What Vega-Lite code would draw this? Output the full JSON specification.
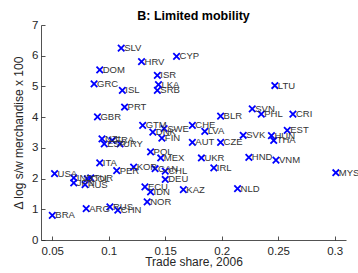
{
  "$schema": "https://vega.github.io/schema/vega-lite/v6.json",
  "width": 305,
  "height": 215,
  "autosize": {"type": "none"},
  "padding": {"left": 41, "top": 25, "right": 12, "bottom": 33},
  "background": "white",
  "title": {"text": "B: Limited mobility", "fontSize": 12.5, "fontWeight": "bold", "font": "Liberation Sans", "color": "#000", "anchor": "middle", "offset": -3},
  "config": {
    "view": {"stroke": null},
    "axis": {"grid": false, "labelFont": "Liberation Sans", "titleFont": "Liberation Sans", "labelFontSize": 11.5, "titleFontSize": 12, "titleFontWeight": "normal", "labelColor": "#262626", "titleColor": "#262626", "domainColor": "#262626", "tickColor": "#262626", "tickSize": -4, "domainWidth": 0.8, "tickWidth": 0.8, "labelOverlap": false}
  },
  "data": {"values": [
    {"c": "SLV", "x": 0.111, "y": 6.25},
    {"c": "HRV", "x": 0.129, "y": 5.81},
    {"c": "CYP", "x": 0.160, "y": 5.98},
    {"c": "DOM", "x": 0.092, "y": 5.54},
    {"c": "GRC", "x": 0.087, "y": 5.08},
    {"c": "ISL", "x": 0.112, "y": 4.87},
    {"c": "ISR", "x": 0.143, "y": 5.36},
    {"c": "LKA", "x": 0.144, "y": 5.06},
    {"c": "SRB", "x": 0.143, "y": 4.87},
    {"c": "PRT", "x": 0.114, "y": 4.33},
    {"c": "LTU", "x": 0.247, "y": 5.03},
    {"c": "GBR", "x": 0.090, "y": 4.01},
    {"c": "BLR", "x": 0.199, "y": 4.03},
    {"c": "SVN", "x": 0.227, "y": 4.27},
    {"c": "PHL", "x": 0.235, "y": 4.10},
    {"c": "CRI", "x": 0.263, "y": 4.10},
    {"c": "GTM", "x": 0.130, "y": 3.73},
    {"c": "DNK", "x": 0.139, "y": 3.51},
    {"c": "SWE", "x": 0.149, "y": 3.63},
    {"c": "FIN", "x": 0.147, "y": 3.32},
    {"c": "CHE", "x": 0.174, "y": 3.73},
    {"c": "LVA", "x": 0.185, "y": 3.54},
    {"c": "SVK", "x": 0.219, "y": 3.41},
    {"c": "AUT", "x": 0.174, "y": 3.18},
    {"c": "CZE", "x": 0.199, "y": 3.18},
    {"c": "POL", "x": 0.137, "y": 2.87},
    {"c": "MEX", "x": 0.146, "y": 2.67},
    {"c": "UKR", "x": 0.182, "y": 2.67},
    {"c": "CAN", "x": 0.141, "y": 2.32},
    {"c": "CHL", "x": 0.150, "y": 2.24},
    {"c": "IRL", "x": 0.193, "y": 2.35},
    {"c": "DEU", "x": 0.150, "y": 1.97},
    {"c": "ECU", "x": 0.132, "y": 1.73},
    {"c": "IDN", "x": 0.137, "y": 1.57},
    {"c": "KAZ", "x": 0.166, "y": 1.64},
    {"c": "NLD", "x": 0.214, "y": 1.67},
    {"c": "NOR", "x": 0.134, "y": 1.24},
    {"c": "HUN", "x": 0.244, "y": 3.40},
    {"c": "THA", "x": 0.246, "y": 3.24},
    {"c": "EST", "x": 0.258, "y": 3.57},
    {"c": "HND", "x": 0.224, "y": 2.69},
    {"c": "VNM", "x": 0.248, "y": 2.60},
    {"c": "MYS", "x": 0.301, "y": 2.19},
    {"c": "NZL", "x": 0.094, "y": 3.29},
    {"c": "FRA", "x": 0.103, "y": 3.24},
    {"c": "ESP", "x": 0.096, "y": 3.13},
    {"c": "URY", "x": 0.110, "y": 3.13},
    {"c": "ITA", "x": 0.092, "y": 2.51},
    {"c": "USA", "x": 0.052, "y": 2.16},
    {"c": "PER", "x": 0.107, "y": 2.26},
    {"c": "KOR", "x": 0.122, "y": 2.37},
    {"c": "IND", "x": 0.069, "y": 2.02},
    {"c": "JPN", "x": 0.069, "y": 1.86},
    {"c": "COL", "x": 0.081, "y": 1.99},
    {"c": "TUR", "x": 0.084, "y": 2.02},
    {"c": "AUS", "x": 0.079, "y": 1.80},
    {"c": "BRA", "x": 0.050, "y": 0.80},
    {"c": "ARG", "x": 0.080, "y": 1.02},
    {"c": "RUS", "x": 0.101, "y": 1.08},
    {"c": "CHN", "x": 0.108, "y": 0.97}
  ]},
  "encoding": {
    "x": {"field": "x", "type": "quantitative", "title": "Trade share, 2006",
      "scale": {"domain": [0.04, 0.31], "nice": false, "zero": false},
      "axis": {"values": [0.05, 0.1, 0.15, 0.2, 0.25, 0.3], "labelExpr": "format(datum.value, '.2~f')", "labelPadding": 9, "titlePadding": 0, "labelFlush": false}},
    "y": {"field": "y", "type": "quantitative", "title": "Δ log s/w merchandise x 100",
      "scale": {"domain": [0, 7], "nice": false, "zero": true},
      "axis": {"values": [0, 1, 2, 3, 4, 5, 6, 7], "labelExpr": "format(datum.value, 'd')", "labelPadding": 7, "titlePadding": 6, "labelFlush": false, "labelOverlap": false, "labelBound": false}}
  },
  "layer": [
    {"mark": {"type": "point", "shape": "M-1,-1L1,1M-1,1L1,-1", "filled": false, "color": "#0000ff", "strokeWidth": 1.8, "size": 42, "opacity": 1}},
    {"mark": {"type": "text", "align": "left", "baseline": "middle", "dx": 3, "fontSize": 9.5, "font": "Liberation Sans", "color": "#333333"},
     "encoding": {"text": {"field": "c"}}}
  ]
}
